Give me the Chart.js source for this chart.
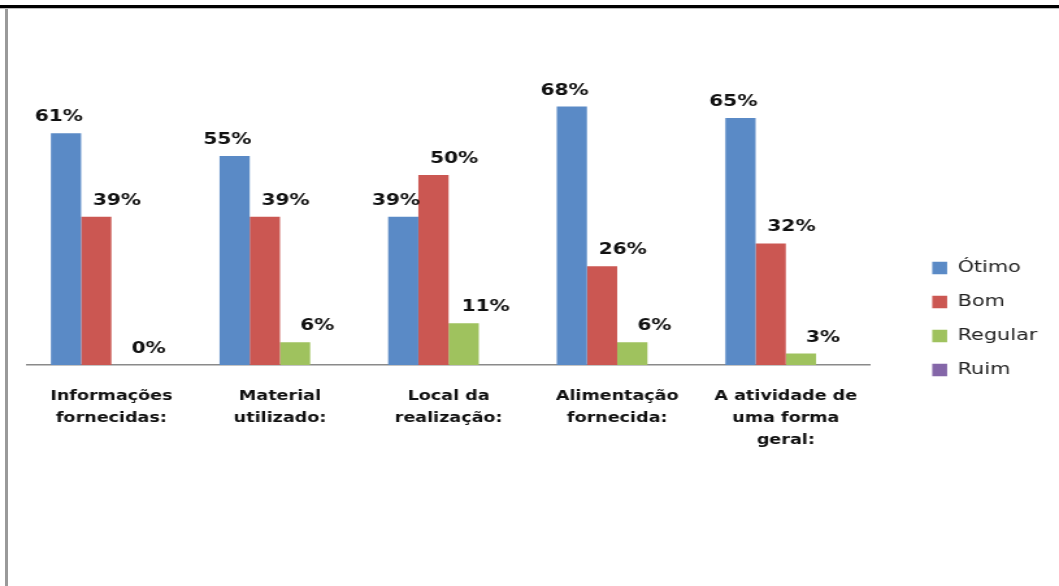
<!DOCTYPE html>
<html>
<head>
<meta charset="utf-8">
<script src="https://cdn.jsdelivr.net/npm/chart.js@4/dist/chart.umd.min.js"></script>
<style>
  html, body { margin: 0; padding: 0; background: #fff; overflow: hidden; }
  body { width: 1059px; height: 586px; position: relative; }
  #wrap { position: absolute; left: 0; top: 0; width: 815px; height: 586px; transform: scaleX(1.29939); transform-origin: 0 0; }
  #topline { position: absolute; left: 0; top: 5px; width: 1059px; height: 3px; background: #000; border-bottom: 1px solid #bdbdbd; }
  #leftline { position: absolute; left: 5px; top: 9px; width: 3px; height: 577px; background: #9a9a9a; }
</style>
</head>
<body>
<div id="wrap"><canvas id="c" width="815" height="586"></canvas></div>
<div id="topline"></div>
<div id="leftline"></div>
<script>
const categories = [
  ['Informações', 'fornecidas:'],
  ['Material', 'utilizado:'],
  ['Local da', 'realização:'],
  ['Alimentação', 'fornecida:'],
  ['A atividade de', 'uma forma', 'geral:']
];
const seriesNames = ['Ótimo', 'Bom', 'Regular', 'Ruim'];
const otimo = [61, 55, 39, 68, 65];
const bom = [39, 39, 50, 26, 32];
const regular = [0, 6, 11, 6, 3];
const ruim = [0, 0, 0, 0, 0];

const barLabels = {
  id: 'barLabels',
  afterDatasetsDraw(chart) {
    const ctx = chart.ctx;
    ctx.save();
    ctx.font = 'bold 15.5px "DejaVu Sans"';
    ctx.fillStyle = '#111';
    ctx.textAlign = 'center';
    ctx.textBaseline = 'alphabetic';
    chart.data.datasets.forEach((ds, i) => {
      if (!ds.showLabels) return;
      const meta = chart.getDatasetMeta(i);
      meta.data.forEach((bar, j) => {
        ctx.fillText(ds.data[j] + '%', bar.x + ds.labelDx, bar.y - 12);
      });
    });
    ctx.restore();
  }
};

new Chart(document.getElementById('c'), {
  type: 'bar',
  data: {
    labels: categories,
    datasets: [
      { label: seriesNames[0], data: otimo, backgroundColor: '#5a8ac6', borderWidth: 0, showLabels: true, labelDx: -5.5 },
      { label: seriesNames[1], data: bom, backgroundColor: '#cb5752', borderWidth: 0, showLabels: true, labelDx: 16 },
      { label: seriesNames[2], data: regular, backgroundColor: '#9fc25e', borderWidth: 0, showLabels: true, labelDx: 17 },
      { label: seriesNames[3], data: ruim, backgroundColor: '#8466a8', borderWidth: 0, showLabels: false, labelDx: 0 }
    ]
  },
  options: {
    responsive: false,
    animation: false,
    categoryPercentage: 0.717,
    barPercentage: 1,
    layout: { padding: { left: 20.8, right: 6.7, top: 61, bottom: 9 } },
    plugins: {
      legend: {
        position: 'right',
        align: 'center',
        labels: {
          boxWidth: 11.5,
          boxHeight: 12.5,
          padding: 18,
          color: '#222',
          font: { family: '"DejaVu Sans"', size: 16 }
        }
      },
      tooltip: { enabled: false }
    },
    scales: {
      x: {
        grid: { display: false, drawTicks: false },
        border: { display: true, color: '#8a8a8a', width: 1.5 },
        ticks: {
          color: '#111',
          padding: 20,
          maxRotation: 0,
          autoSkip: false,
          font: { family: '"DejaVu Sans"', size: 13.5, weight: 'bold', lineHeight: 1.63 }
        },
        afterFit(s) { s.height = 212; }
      },
      y: {
        position: 'right',
        min: 0,
        max: 80,
        grid: { display: false, drawTicks: false },
        border: { display: false },
        ticks: { display: false },
        afterFit(s) { s.width = 29.8; }
      }
    }
  },
  plugins: [barLabels]
});
</script>
</body>
</html>
